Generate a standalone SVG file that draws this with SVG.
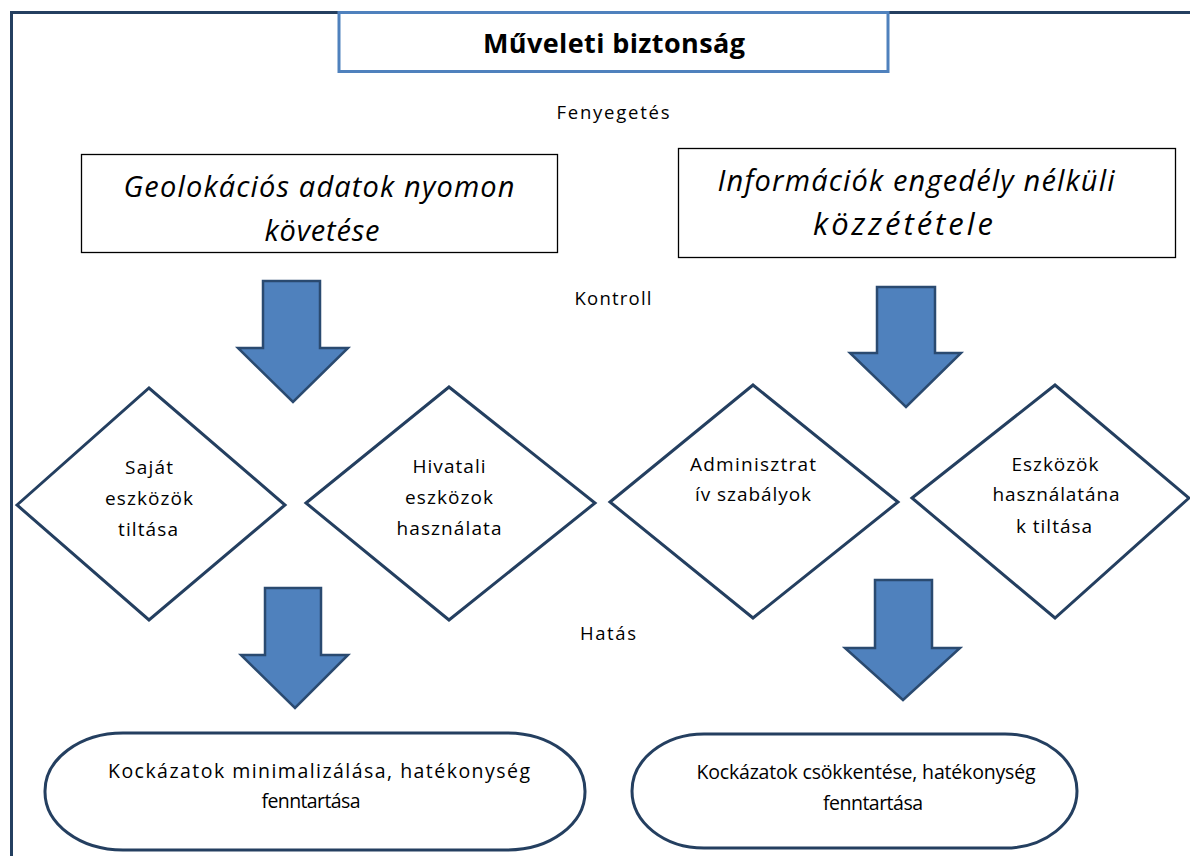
<svg xmlns="http://www.w3.org/2000/svg" width="1190" height="856" viewBox="0 0 1190 856">
<defs>
<style>
.frame{fill:none;stroke:#243F60;stroke-width:3}
.title{fill:#fff;stroke:#4F81BD;stroke-width:3}
.box{fill:#fff;stroke:#000;stroke-width:1.3}
.dia{fill:#fff;stroke:#243F60;stroke-width:3}
.pill{fill:#fff;stroke:#243F60;stroke-width:3}
.arrow{fill:#4F81BD;stroke:#2A4A70;stroke-width:2.5;stroke-linejoin:miter}
text{font-family:"Open Sans","Noto Sans","Liberation Sans",sans-serif;fill:#000;text-anchor:middle}
.t{font-size:27px;font-weight:bold}
.lbl{font-size:18.5px}
.big{font-size:29px;font-style:italic}
.d{font-size:19px}
.p{font-size:19.5px}
</style>
</defs>
<rect width="1190" height="856" fill="#fff"/>
<g id="frame">
<path class="frame" d="M11.5,856 V12.5 H1190"/>
</g>
<g id="title">
<rect class="title" x="339" y="12.5" width="549" height="59"/>
<text class="t" x="614" y="53" textLength="262" lengthAdjust="spacing">Műveleti biztonság</text>
</g>
<g id="label-fenyegetes"><text class="lbl" x="613" y="119" textLength="113" lengthAdjust="spacing">Fenyegetés</text></g>
<g id="label-kontroll"><text class="lbl" x="613" y="305" textLength="77" lengthAdjust="spacing">Kontroll</text></g>
<g id="label-hatas"><text class="lbl" x="608" y="640" textLength="56" lengthAdjust="spacing">Hatás</text></g>
<g id="threat1">
<rect class="box" x="81.5" y="154.5" width="476" height="98"/>
<text class="big" x="319" y="197" textLength="391" lengthAdjust="spacing">Geolokációs adatok nyomon</text>
<text class="big" x="322" y="241" textLength="115" lengthAdjust="spacing">követése</text>
</g>
<g id="threat2">
<rect class="box" x="678.5" y="148.5" width="497" height="109"/>
<text class="big" x="916" y="191" textLength="397" lengthAdjust="spacing">Információk engedély nélküli</text>
<text class="big" x="903" y="235" textLength="180" lengthAdjust="spacing" style="font-size:31px">közzététele</text>
</g>
<g id="control1">
<polygon class="dia" points="17,505 149,388 285,505 149,620"/>
<text class="d" x="149" y="474" textLength="48" lengthAdjust="spacing">Saját</text>
<text class="d" x="149" y="505" textLength="88" lengthAdjust="spacing">eszközök</text>
<text class="d" x="148" y="536" textLength="60" lengthAdjust="spacing">tiltása</text>
</g>
<g id="control2">
<polygon class="dia" points="306,503 449,387 595,503 449,620"/>
<text class="d" x="449" y="473" textLength="73" lengthAdjust="spacing">Hivatali</text>
<text class="d" x="449" y="504" textLength="88" lengthAdjust="spacing">eszközok</text>
<text class="d" x="449" y="535" textLength="105" lengthAdjust="spacing">használata</text>
</g>
<g id="control3">
<polygon class="dia" points="610,502 753,385 898,502 753,618"/>
<text class="d" x="753" y="471" textLength="126" lengthAdjust="spacing">Adminisztrat</text>
<text class="d" x="753" y="501" textLength="116" lengthAdjust="spacing">ív szabályok</text>
</g>
<g id="control4">
<polygon class="dia" points="912,498 1055,385 1189,498 1055,618"/>
<text class="d" x="1055" y="471" textLength="87" lengthAdjust="spacing">Eszközök</text>
<text class="d" x="1056" y="501" textLength="127" lengthAdjust="spacing">használatána</text>
<text class="d" x="1054" y="533" textLength="76" lengthAdjust="spacing">k tiltása</text>
</g>
<g id="impact1">
<rect class="pill" x="45" y="733" width="540" height="117" rx="78" ry="58"/>
<text class="p" x="319" y="778" textLength="422" lengthAdjust="spacing">Kockázatok minimalizálása, hatékonység</text>
<text class="p" x="311" y="808" textLength="99" lengthAdjust="spacing">fenntartása</text>
</g>
<g id="impact2">
<rect class="pill" x="632" y="734" width="445" height="114" rx="72" ry="57"/>
<text class="p" x="866" y="779" textLength="339" lengthAdjust="spacing">Kockázatok csökkentése, hatékonység</text>
<text class="p" x="873" y="810" textLength="100" lengthAdjust="spacing">fenntartása</text>
</g>
<g id="connectors">
<path class="arrow" d="M263,281 H320 V348 H348 L293,402 L238,348 H263 Z"/>
<path class="arrow" d="M877,287 H935 V353 H961 L906,407 L850,353 H877 Z"/>
<path class="arrow" d="M265,588 H321 V655 H348 L295,708 L241,655 H265 Z"/>
<path class="arrow" d="M875,580 H932 V648 H960 L903,700 L845,648 H875 Z"/>
</g>
</svg>
